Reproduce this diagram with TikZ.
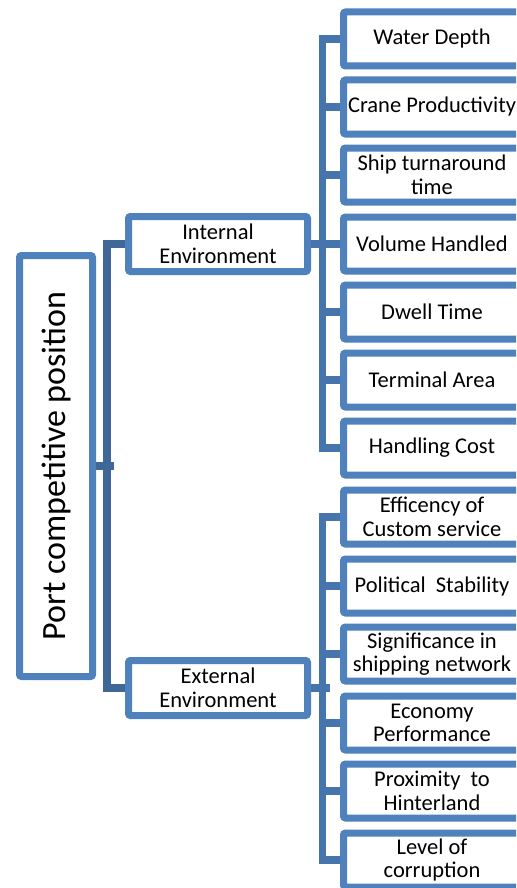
\documentclass[tikz,border=0pt]{standalone}
\usepackage{fontspec}
\setmainfont{Carlito}
\definecolor{boxblue}{HTML}{4F81BD}
\definecolor{branchblue}{HTML}{4674AC}
\definecolor{trunkblue}{HTML}{3F6899}

\begin{document}
\begin{tikzpicture}[x=0.5pt,y=-0.5pt,
  frame/.style={draw=boxblue,line width=3.5pt,fill=white,rounded corners=1pt,inner sep=0pt,align=center,font=\fontsize{11.25}{11.8}\selectfont},
  rootbox/.style={frame,rotate=90,minimum width=210.5pt,minimum height=36.5pt,font=\fontsize{17}{20}\selectfont},
  envbox/.style={frame,minimum width=89.5pt,minimum height=27.5pt},
  leafbox/.style={frame,minimum width=88.5pt,minimum height=27pt},
  trunk/.style={trunkblue,line width=3.8pt},
  branch/.style={branchblue,line width=3.8pt}]
  \clip (0,0) rectangle (516,888);
  \fill[white] (0,0) rectangle (516,888);
  \node[rootbox] (port) at (56,466) {Port competitive position};
  \node[envbox] (internal) at (218,244) {Internal\\Environment};
  \node[envbox] (external) at (218,688) {External\\Environment};
  \node[leafbox] (depth) at (432,39) {Water Depth};
  \node[leafbox] (crane) at (432,107) {Crane Productivity};
  \node[leafbox] (turnaround) at (432,175) {Ship turnaround\\time};
  \node[leafbox] (volume) at (432,244) {Volume Handled};
  \node[leafbox] (dwell) at (432,312) {Dwell Time};
  \node[leafbox] (area) at (432,380) {Terminal Area};
  \node[leafbox] (cost) at (432,448) {Handling Cost};
  \node[leafbox] (custom) at (432,517) {Efficency of\\Custom service};
  \node[leafbox] (politics) at (432,586) {Political\ \ Stability};
  \node[leafbox] (network) at (432,654) {Significance in\\shipping network};
  \node[leafbox] (economy) at (432,723) {Economy\\Performance};
  \node[leafbox] (hinterland) at (432,791) {Proximity\ \ to\\Hinterland};
  \node[leafbox] (corruption) at (432,860) {Level of\\corruption};
  \draw[trunk] (port.south) -- ++(18,0);
  \draw[trunk] (internal.west) -- ++(-18,0) |- (external.west);
  \draw[branch] (internal.east) -- ++(18.5,0);
  \draw[branch] (depth.west) -- ++(-17.5,0) |- (cost.west);
  \foreach \leaf in {crane,turnaround,volume,dwell,area}
    \draw[branch] (\leaf.west) -- ++(-17.5,0);
  \draw[branch] (external.east) -- ++(18.5,0);
  \draw[branch] (custom.west) -- ++(-17.5,0) |- (corruption.west);
  \foreach \leaf in {politics,network,economy,hinterland}
    \draw[branch] (\leaf.west) -- ++(-17.5,0);
\end{tikzpicture}
\end{document}
